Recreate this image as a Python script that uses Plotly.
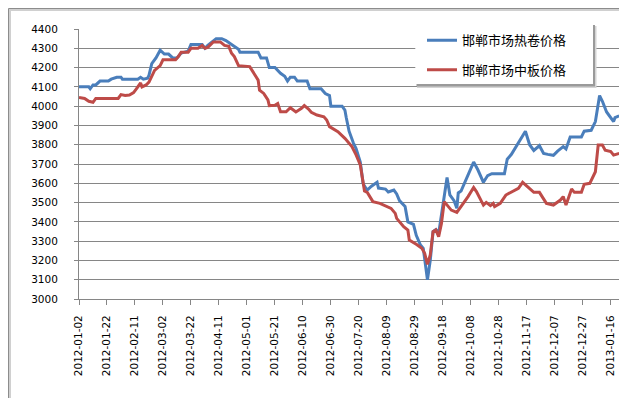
import plotly.graph_objects as go

# ---- data ----
hot_dates = [
    "2012-01-02", "2012-01-09", "2012-01-10", "2012-01-12", "2012-01-14", "2012-01-17",
    "2012-01-23", "2012-01-25", "2012-01-29", "2012-02-01", "2012-02-02", "2012-02-13",
    "2012-02-15", "2012-02-17", "2012-02-20", "2012-02-21", "2012-02-23", "2012-02-26",
    "2012-02-29", "2012-03-03", "2012-03-06", "2012-03-09", "2012-03-12", "2012-03-15",
    "2012-03-20", "2012-03-22", "2012-03-30", "2012-04-01", "2012-04-03", "2012-04-09",
    "2012-04-13", "2012-04-16", "2012-04-20", "2012-04-22", "2012-04-25", "2012-04-26",
    "2012-05-09", "2012-05-11", "2012-05-15", "2012-05-17", "2012-05-21", "2012-05-25",
    "2012-05-28", "2012-05-30", "2012-06-01", "2012-06-04", "2012-06-06", "2012-06-13",
    "2012-06-15", "2012-06-23", "2012-06-26", "2012-06-29", "2012-06-30", "2012-07-08",
    "2012-07-10", "2012-07-11", "2012-07-13", "2012-07-16", "2012-07-18", "2012-07-21",
    "2012-07-23", "2012-07-24", "2012-07-26", "2012-07-29", "2012-08-02", "2012-08-03",
    "2012-08-08", "2012-08-10", "2012-08-14", "2012-08-16", "2012-08-18", "2012-08-22",
    "2012-08-24", "2012-08-28", "2012-08-30", "2012-09-02", "2012-09-04", "2012-09-07",
    "2012-09-09", "2012-09-11", "2012-09-13", "2012-09-15", "2012-09-18", "2012-09-21",
    "2012-09-23", "2012-09-26", "2012-09-28", "2012-09-29", "2012-10-01", "2012-10-10",
    "2012-10-13", "2012-10-17", "2012-10-20", "2012-10-23", "2012-11-01", "2012-11-03",
    "2012-11-06", "2012-11-10", "2012-11-13", "2012-11-16", "2012-11-19", "2012-11-22",
    "2012-11-26", "2012-11-29", "2012-12-02", "2012-12-06", "2012-12-09", "2012-12-13",
    "2012-12-15", "2012-12-18", "2012-12-26", "2012-12-28", "2013-01-02", "2013-01-05",
    "2013-01-08", "2013-01-10", "2013-01-13", "2013-01-16", "2013-01-18", "2013-01-19",
    "2013-01-22",
]
hot_values = [
    4100, 4100, 4090, 4110, 4110, 4130,
    4130, 4140, 4150, 4150, 4140, 4140,
    4150, 4140, 4145, 4160, 4220, 4250,
    4290, 4270, 4270, 4250, 4250, 4275,
    4285, 4320, 4320, 4300, 4315, 4350,
    4350, 4340, 4320, 4310, 4295, 4280,
    4280, 4250, 4250, 4200, 4200, 4170,
    4155, 4130, 4150, 4150, 4130, 4130,
    4090, 4090, 4065, 4055, 4000, 4000,
    3980, 3940, 3870, 3810, 3780, 3710,
    3600, 3585, 3565, 3585, 3605, 3575,
    3570, 3555, 3565, 3545, 3510, 3480,
    3400, 3387, 3330, 3280, 3263, 3100,
    3200, 3350, 3360, 3340, 3495, 3630,
    3540, 3510, 3470, 3550, 3560, 3710,
    3670, 3605, 3640, 3650, 3650, 3725,
    3750, 3800, 3840, 3870, 3800, 3770,
    3795, 3755, 3750, 3745, 3767, 3790,
    3778, 3840, 3840, 3870, 3875, 3920,
    4055, 4025, 3970, 3937, 3920, 3940,
    3950,
]

plate_dates = [
    "2012-01-02", "2012-01-06", "2012-01-09", "2012-01-12", "2012-01-14", "2012-01-30",
    "2012-02-01", "2012-02-04", "2012-02-07", "2012-02-10", "2012-02-12", "2012-02-15",
    "2012-02-16", "2012-02-19", "2012-02-21", "2012-02-23", "2012-02-25", "2012-02-29",
    "2012-03-02", "2012-03-11", "2012-03-13", "2012-03-15", "2012-03-20", "2012-03-22",
    "2012-03-27", "2012-03-30", "2012-04-01", "2012-04-03", "2012-04-07", "2012-04-12",
    "2012-04-15", "2012-04-18", "2012-04-20", "2012-04-22", "2012-04-25", "2012-05-03",
    "2012-05-06", "2012-05-09", "2012-05-10", "2012-05-13", "2012-05-16", "2012-05-17",
    "2012-05-21", "2012-05-23", "2012-05-25", "2012-05-29", "2012-06-01", "2012-06-03",
    "2012-06-05", "2012-06-09", "2012-06-11", "2012-06-14", "2012-06-16", "2012-06-20",
    "2012-06-25", "2012-06-27", "2012-06-29", "2012-07-05", "2012-07-10", "2012-07-15",
    "2012-07-18", "2012-07-21", "2012-07-24", "2012-07-26", "2012-07-28", "2012-07-30",
    "2012-08-04", "2012-08-09", "2012-08-12", "2012-08-15", "2012-08-16", "2012-08-21",
    "2012-08-24", "2012-08-25", "2012-08-28", "2012-08-30", "2012-09-03", "2012-09-05",
    "2012-09-07", "2012-09-09", "2012-09-11", "2012-09-13", "2012-09-15", "2012-09-17",
    "2012-09-19", "2012-09-22", "2012-09-24", "2012-09-28", "2012-10-01", "2012-10-06",
    "2012-10-10", "2012-10-12", "2012-10-17", "2012-10-19", "2012-10-22", "2012-10-24",
    "2012-10-25", "2012-10-29", "2012-11-02", "2012-11-07", "2012-11-11", "2012-11-14",
    "2012-11-18", "2012-11-22", "2012-11-26", "2012-12-01", "2012-12-06", "2012-12-11",
    "2012-12-13", "2012-12-15", "2012-12-19", "2012-12-21", "2012-12-26", "2012-12-28",
    "2013-01-01", "2013-01-05", "2013-01-07", "2013-01-10", "2013-01-12", "2013-01-16",
    "2013-01-18", "2013-01-22",
]
plate_values = [
    4045, 4040, 4025, 4020, 4040, 4040,
    4060, 4055, 4058, 4070, 4090, 4120,
    4100, 4110, 4125, 4160, 4185, 4210,
    4240, 4240, 4257, 4280, 4280, 4300,
    4300, 4315, 4300, 4305, 4333, 4333,
    4315, 4310, 4274, 4257, 4210, 4205,
    4170, 4135, 4083, 4066, 4032, 4003,
    4005, 4014, 3971, 3971, 3992, 3980,
    3970, 3989, 4003, 3985, 3968, 3954,
    3945, 3928, 3894, 3868, 3833, 3790,
    3747, 3695, 3560, 3553, 3531, 3505,
    3496, 3479, 3470, 3444, 3418, 3375,
    3358, 3306, 3294, 3284, 3263, 3237,
    3180, 3228, 3349, 3358, 3323, 3392,
    3505, 3479, 3461, 3449, 3479, 3531,
    3578, 3557, 3487, 3501, 3484, 3496,
    3479, 3496, 3539, 3557, 3574, 3605,
    3578, 3553, 3553, 3496, 3487, 3513,
    3531, 3487, 3570, 3553, 3553, 3595,
    3600, 3660, 3798, 3798, 3772, 3764,
    3746, 3755,
]

series_names = ["邯郸市场热卷价格", "邯郸市场中板价格"]
series_colors = ["#4A7EBB", "#BE4B48"]

y_range = [3000, 4400]
x_range = ["2012-01-02", "2013-01-22 14:00"]
x_tick0 = "2012-01-02"
x_tick_days = 20

# ---- geometry helpers (pixel -> paper) ----
W, H = 627, 398
ML, MR, MT, MB = 71, 15, 21, 107
PW, PH = W - ML - MR, H - MT - MB


def px(x):
    return (x - ML) / PW


def py(y):
    return (H - MB - y) / PH


grid = "#868686"
tickfont = dict(family="DejaVu Sans", size=10.5, color="#000000")

fig = go.Figure()
fig.add_trace(go.Scatter(x=hot_dates, y=hot_values, name=series_names[0], mode="lines",
                         line=dict(color=series_colors[0], width=3), legend="legend"))
fig.add_trace(go.Scatter(x=plate_dates, y=plate_values, name=series_names[1], mode="lines",
                         line=dict(color=series_colors[1], width=3), legend="legend2"))

shapes = []
# chart frame shadow + frame
shapes.append(dict(type="rect", xref="paper", yref="paper", x0=px(2), x1=px(626),
                   y0=py(396.5), y1=py(2), line=dict(color="#d0d0d0", width=2),
                   fillcolor="rgba(0,0,0,0)", layer="below"))
shapes.append(dict(type="rect", xref="paper", yref="paper", x0=px(0.5), x1=px(624),
                   y0=py(394.5), y1=py(0.5), line=dict(color="#8c8c8c", width=1),
                   fillcolor="rgba(0,0,0,0)", layer="below"))
# legend shadow + box
shapes.append(dict(type="rect", xref="paper", yref="paper", x0=px(409), x1=px(588.5),
                   y0=py(80), y1=py(18), line=dict(width=0), fillcolor="#d4d4d4", layer="above"))
shapes.append(dict(type="rect", xref="paper", yref="paper", x0=px(408.5), x1=px(587),
                   y0=py(78.5), y1=py(17), line=dict(width=0), fillcolor="#9a9a9a", layer="above"))
shapes.append(dict(type="rect", xref="paper", yref="paper", x0=px(407.3), x1=px(585),
                   y0=py(76), y1=py(16), line=dict(width=0), fillcolor="#ffffff", layer="above"))

legend_font = dict(family="Noto Sans CJK SC", size=13, color="#000000")

fig.update_layout(
    width=W, height=H,
    margin=dict(l=ML, r=MR, t=MT, b=MB, pad=0),
    paper_bgcolor="#ffffff", plot_bgcolor="#ffffff",
    showlegend=True,
    shapes=shapes,
    legend=dict(x=px(414), y=py(32.3), xanchor="left", yanchor="middle",
                bgcolor="rgba(0,0,0,0)", borderwidth=0, font=legend_font),
    legend2=dict(x=px(414), y=py(61.7), xanchor="left", yanchor="middle",
                 bgcolor="rgba(0,0,0,0)", borderwidth=0, font=legend_font),
    xaxis=dict(type="date", range=x_range, tick0=x_tick0, dtick=x_tick_days * 86400000,
               tickformat="%Y-%m-%d", tickangle=-90, ticks="outside", ticklen=5,
               tickcolor=grid, showline=True, linecolor=grid, linewidth=1,
               showgrid=False, zeroline=False, tickfont=tickfont, ticklabelstandoff=6),
    yaxis=dict(range=y_range, dtick=100, ticks="outside", ticklen=4, tickcolor=grid,
               showline=True, linecolor=grid, linewidth=1, showgrid=True,
               gridcolor=grid, gridwidth=1, zeroline=False, tickfont=tickfont,
               ticklabelstandoff=14),
)

fig.write_html("out.html")
